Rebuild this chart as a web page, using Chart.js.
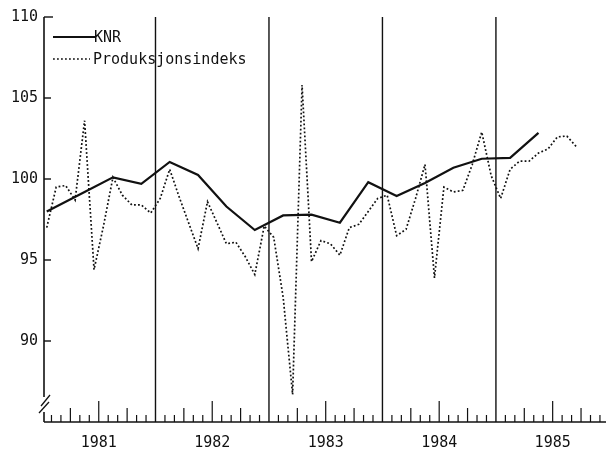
<!DOCTYPE html>
<html>
<head>
<meta charset="utf-8">
<script src="https://cdn.jsdelivr.net/npm/chart.js@4/dist/chart.umd.min.js"></script>
<style>
  html, body { margin: 0; padding: 0; background: #fff; }
  #wrap { width: 606px; height: 451px; }
</style>
</head>
<body>
<div id="wrap"><canvas id="chart"></canvas></div>
<script>
// Monthly production index, Jan 1981 - Sep 1985
const productionValues = [
  97.0, 99.5, 99.6, 98.7, 103.6, 94.4, 97.1, 100.1, 99.0, 98.4, 98.4, 97.9,   // 1981
  98.8, 100.6, 98.9, 97.3, 95.7, 98.6, 97.3, 96.0, 96.1, 95.2, 94.1, 97.1,    // 1982
  96.4, 92.7, 86.7, 105.8, 94.9, 96.2, 96.0, 95.3, 97.0, 97.2, 98.0, 98.8,    // 1983
  99.0, 96.5, 96.9, 98.8, 100.9, 93.9, 99.5, 99.2, 99.3, 100.9, 102.9, 100.2, // 1984
  98.8, 100.6, 101.1, 101.1, 101.6, 101.85, 102.6, 102.65, 102.0             // 1985
];

// KNR, quarterly (month index counted from Jan 1981)
const knrMonths = [0, 4, 7, 10, 13, 16, 19, 22, 25, 28, 31, 34, 37, 40, 43, 46, 49, 52];
const knrValues = [98.0, 99.2, 100.1, 99.7, 101.05, 100.25, 98.3, 96.85, 97.75, 97.8,
                   97.3, 99.8, 98.95, 99.75, 100.7, 101.25, 101.3, 102.85];

const yearLabels = ['1981', '1982', '1983', '1984', '1985'];
const yTickValues = [90, 95, 100, 105, 110];

const FONT = '"DejaVu Sans Mono", "Liberation Mono", monospace';
const INK = '#111';
const DOTS = [1.8, 2.2];

const knrData = knrMonths.map((m, i) => ({ x: m + 0.5, y: knrValues[i] }));
const prodData = productionValues.map((v, i) => ({ x: i + 0.5, y: v }));

function seg(ctx, x1, y1, x2, y2) {
  ctx.beginPath();
  ctx.moveTo(x1, y1);
  ctx.lineTo(x2, y2);
  ctx.stroke();
}

// axes with the y break, monthly ticks, year dividers and the legend
const plotterFrame = {
  id: 'plotterFrame',
  beforeDatasetsDraw(chart) {
    const { ctx, chartArea: a, scales: { x, y } } = chart;
    ctx.save();
    ctx.strokeStyle = INK;
    ctx.lineCap = 'butt';

    // year dividers
    ctx.lineWidth = 1.4;
    yearLabels.slice(1).forEach((_, k) => {
      const px = x.getPixelForValue((k + 1) * 12);
      seg(ctx, px, y.getPixelForValue(110), px, a.bottom);
    });

    // x axis + month ticks
    ctx.lineWidth = 1.6;
    seg(ctx, a.left, a.bottom, a.right, a.bottom);
    ctx.lineWidth = 1.2;
    for (let m = 1; m < 60; m++) {
      if (m % 12 === 0) continue;
      const px = x.getPixelForValue(m);
      if (px > a.right) break;
      const len = m % 6 === 0 ? 21 : (m % 3 === 0 ? 14 : 7);
      seg(ctx, px, a.bottom, px, a.bottom - len);
    }

    // y axis with break near the bottom
    ctx.lineWidth = 1.6;
    seg(ctx, a.left, a.top, a.left, a.bottom - 25);
    seg(ctx, a.left, a.bottom - 10, a.left, a.bottom);
    ctx.lineWidth = 1.3;
    seg(ctx, a.left - 5, a.bottom - 9, a.left + 5, a.bottom - 20);
    seg(ctx, a.left - 3, a.bottom - 16, a.left + 6, a.bottom - 27);

    // inward y ticks
    ctx.lineWidth = 1.4;
    yTickValues.forEach(v => {
      const py = y.getPixelForValue(v);
      seg(ctx, a.left, py, a.left + (v === 110 ? 9 : 7), py);
    });
    ctx.restore();
  },
  afterDraw(chart) {
    const { ctx, chartArea: a } = chart;
    const ds = chart.data.datasets;
    ctx.save();
    ctx.strokeStyle = INK;
    ctx.fillStyle = INK;
    ctx.font = '15px ' + FONT;
    ctx.textBaseline = 'middle';

    ctx.lineWidth = 2;
    seg(ctx, a.left + 9, a.top + 20, a.left + 51, a.top + 20);
    ctx.fillText(ds[0].label, a.left + 50, a.top + 21);

    ctx.lineWidth = 1.7;
    ctx.setLineDash(DOTS);
    seg(ctx, a.left + 9, a.top + 42, a.left + 46, a.top + 42);
    ctx.setLineDash([]);
    ctx.fillText(ds[1].label, a.left + 49, a.top + 43);
    ctx.restore();
  }
};

new Chart(document.getElementById('chart'), {
  type: 'line',
  data: {
    datasets: [
      {
        label: 'KNR',
        data: knrData,
        borderColor: INK,
        borderWidth: 2.2,
        pointRadius: 0,
        tension: 0
      },
      {
        label: 'Produksjonsindeks',
        data: prodData,
        borderColor: INK,
        borderWidth: 1.7,
        borderDash: DOTS,
        pointRadius: 0,
        tension: 0
      }
    ]
  },
  options: {
    responsive: true,
    maintainAspectRatio: false,
    animation: false,
    layout: { padding: { top: 17, right: 0, left: 0, bottom: 0 } },
    plugins: {
      legend: { display: false },
      tooltip: { enabled: false }
    },
    scales: {
      x: {
        type: 'linear',
        min: 0.21,
        max: 59.64,
        grid: { display: false, drawTicks: false },
        border: { display: false },
        afterBuildTicks: axis => {
          axis.ticks = yearLabels.map((_, k) => ({ value: k * 12 + 6 }));
        },
        afterFit: axis => { axis.height = 29; },
        ticks: {
          autoSkip: false,
          maxRotation: 0,
          padding: 12,
          color: INK,
          font: { family: FONT, size: 15 },
          callback: (v, i) => yearLabels[i]
        }
      },
      y: {
        min: 85,
        max: 110,
        grid: { display: false, drawTicks: false },
        border: { display: false },
        afterBuildTicks: axis => {
          axis.ticks = yTickValues.map(v => ({ value: v }));
        },
        afterFit: axis => { axis.width = 44; },
        ticks: {
          padding: 6,
          color: INK,
          font: { family: FONT, size: 15 }
        }
      }
    }
  },
  plugins: [plotterFrame]
});
</script>
</body>
</html>
